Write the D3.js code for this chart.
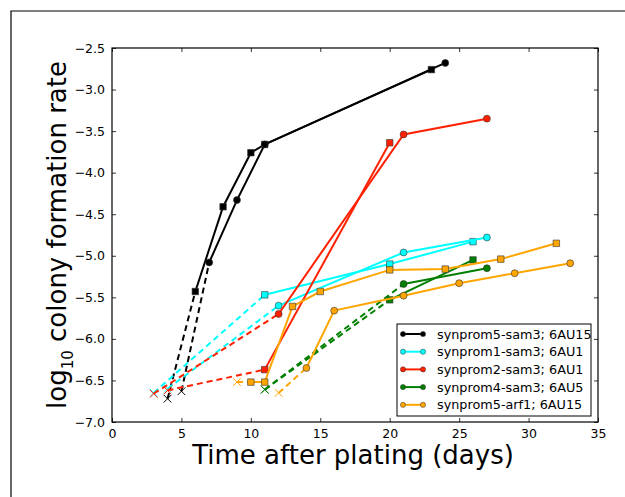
<!DOCTYPE html>
<html>
<head>
<meta charset="utf-8">
<script src="https://cdn.jsdelivr.net/npm/d3@7"></script>
<style>
    body { margin: 0; background: #fff; }
    text { font-family: "DejaVu Sans", sans-serif; }
</style>
</head>
<body>
<script>
(function(){

    //legend labels, one per strain
    var seriesLabels = [
        "synprom5-sam3; 6AU15",
        "synprom1-sam3; 6AU1",
        "synprom2-sam3; 6AU1",
        "synprom4-sam3; 6AU5",
        "synprom5-arf1; 6AU15"
    ];

    //replicate runs: days and log10 rates (first point is the "x" start, joined by a dashed line)
    var blackSqDays = [4, 6, 8, 10, 11, 23];
    var blackSqRates = [-6.72, -5.43, -4.41, -3.76, -3.66, -2.76];
    var blackCircDays = [5, 7, 9, 11, 24];
    var blackCircRates = [-6.63, -5.08, -4.33, -3.66, -2.68];

    var cyanSqDays = [3, 11, 20, 26];
    var cyanSqRates = [-6.65, -5.47, -5.10, -4.83];
    var cyanCircDays = [4, 12, 21, 27];
    var cyanCircRates = [-6.60, -5.60, -4.96, -4.78];

    var redSqDays = [4, 11, 20];
    var redSqRates = [-6.62, -6.37, -3.64];
    var redCircDays = [3, 12, 21, 27];
    var redCircRates = [-6.66, -5.70, -3.54, -3.35];

    var greenSqDays = [11, 20, 26];
    var greenSqRates = [-6.61, -5.53, -5.05];
    var greenCircDays = [11, 21, 27];
    var greenCircRates = [-6.61, -5.34, -5.15];

    var orangeSqDays = [9, 10, 11, 13, 15, 20, 24, 28, 32];
    var orangeSqRates = [-6.52, -6.52, -6.52, -5.61, -5.43, -5.17, -5.16, -5.04, -4.85];
    var orangeCircDays = [12, 14, 16, 21, 25, 29, 33];
    var orangeCircRates = [-6.65, -6.35, -5.66, -5.48, -5.33, -5.21, -5.09];

    //tick values
    var xTicks = [0, 5, 10, 15, 20, 25, 30, 35];
    var yTicks = [-7.0, -6.5, -6.0, -5.5, -5.0, -4.5, -4.0, -3.5, -3.0, -2.5];

    var colors = ["#000000", "#00ffff", "#ff2000", "#007f00", "#ffa500"];

    //build the run list from the arrays above
    var runs = [
        {s: 0, marker: "square", days: blackSqDays, rates: blackSqRates},
        {s: 0, marker: "circle", days: blackCircDays, rates: blackCircRates},
        {s: 1, marker: "square", days: cyanSqDays, rates: cyanSqRates},
        {s: 1, marker: "circle", days: cyanCircDays, rates: cyanCircRates},
        {s: 2, marker: "square", days: redSqDays, rates: redSqRates},
        {s: 2, marker: "circle", days: redCircDays, rates: redCircRates},
        {s: 3, marker: "square", days: greenSqDays, rates: greenSqRates},
        {s: 3, marker: "circle", days: greenCircDays, rates: greenCircRates},
        {s: 4, marker: "square", days: orangeSqDays, rates: orangeSqRates},
        {s: 4, marker: "circle", days: orangeCircDays, rates: orangeCircRates}
    ];
    runs.forEach(function(r){
        r.points = r.days.map(function(d, i){ return {day: d, rate: r.rates[i]}; });
    });

    window.onload = drawChart();

    function drawChart(){
        var width = 625,
            height = 497,
            left = 112,
            right = 598,
            top = 48,
            bottom = 422;

        var svg = d3.select("body")
            .append("svg")
            .attr("width", width)
            .attr("height", height);

        //figure border (only top and left show in the crop)
        svg.append("path")
            .attr("d", "M11," + height + "V11H" + width)
            .attr("fill", "none")
            .attr("stroke", "#000")
            .attr("stroke-width", 1.2);

        var x = d3.scaleLinear().domain([0, 35]).range([left, right]);
        var y = d3.scaleLinear().domain([-7, -2.5]).range([bottom, top]);

        var fmt = function(v){ return d3.format(".1f")(v).replace("-", "\u2212"); };

        //axes with inward ticks on all sides
        svg.append("g")
            .attr("class", "axis")
            .attr("transform", "translate(0," + bottom + ")")
            .call(d3.axisBottom(x).tickValues(xTicks).tickSizeInner(-4).tickSizeOuter(0).tickPadding(7));
        svg.append("g")
            .attr("class", "axis")
            .attr("transform", "translate(0," + top + ")")
            .call(d3.axisTop(x).tickValues(xTicks).tickSizeInner(-4).tickSizeOuter(0).tickFormat(""));
        svg.append("g")
            .attr("class", "axis")
            .attr("transform", "translate(" + left + ",0)")
            .call(d3.axisLeft(y).tickValues(yTicks).tickSizeInner(-4).tickSizeOuter(0).tickPadding(7).tickFormat(fmt));
        svg.append("g")
            .attr("class", "axis")
            .attr("transform", "translate(" + right + ",0)")
            .call(d3.axisRight(y).tickValues(yTicks).tickSizeInner(-4).tickSizeOuter(0).tickFormat(""));

        svg.selectAll(".axis .domain").remove();
        svg.selectAll(".axis text")
            .attr("font-size", 12.5)
            .attr("fill", "#000")
            .style("font-family", "DejaVu Sans");
        svg.selectAll(".axis line").attr("stroke", "#000").attr("stroke-width", 0.8);

        //plot frame
        svg.append("rect")
            .attr("x", left)
            .attr("y", top)
            .attr("width", right - left)
            .attr("height", bottom - top)
            .attr("fill", "none")
            .attr("stroke", "#000")
            .attr("stroke-width", 1.2);

        var line = d3.line()
            .x(function(d){ return x(d.day); })
            .y(function(d){ return y(d.rate); });

        var plot = svg.append("g");

        runs.forEach(function(r){
            var col = colors[r.s];
            //dashed lead-in from the start point
            plot.append("path")
                .datum(r.points.slice(0, 2))
                .attr("d", line)
                .attr("fill", "none")
                .attr("stroke", col)
                .attr("stroke-width", 2)
                .attr("stroke-dasharray", "6,4");
            //solid part
            plot.append("path")
                .datum(r.points.slice(1))
                .attr("d", line)
                .attr("fill", "none")
                .attr("stroke", col)
                .attr("stroke-width", 2);
            //x at the start
            var p0 = r.points[0];
            plot.append("path")
                .attr("d", d3.symbol().type(d3.symbolX).size(40))
                .attr("transform", "translate(" + x(p0.day) + "," + y(p0.rate) + ")")
                .attr("fill", "none")
                .attr("stroke", col)
                .attr("stroke-width", 1);
            //markers on the rest
            plot.selectAll(null)
                .data(r.points.slice(1))
                .enter()
                .append("path")
                .attr("d", d3.symbol().type(r.marker == "square" ? d3.symbolSquare : d3.symbolCircle).size(r.marker == "square" ? 42 : 38))
                .attr("transform", function(d){ return "translate(" + x(d.day) + "," + y(d.rate) + ")"; })
                .attr("fill", col)
                .attr("stroke", "#333")
                .attr("stroke-width", 0.6);
        });

        //axis titles
        svg.append("text")
            .attr("x", (left + right) / 2 - 2)
            .attr("y", 464)
            .attr("text-anchor", "middle")
            .attr("font-size", 26)
            .text("Time after plating (days)");

        var yTitle = svg.append("text")
            .attr("transform", "translate(66," + ((top + bottom) / 2) + ") rotate(-90)")
            .attr("text-anchor", "middle")
            .attr("font-size", 26);
        yTitle.append("tspan").text("log");
        yTitle.append("tspan").attr("font-size", 15).attr("dy", 7).text("10");
        yTitle.append("tspan").attr("dy", -7).text(" colony formation rate");

        //legend
        var lg = svg.append("g").attr("transform", "translate(397,324)");
        lg.append("rect")
            .attr("width", 194)
            .attr("height", 92)
            .attr("fill", "#fff")
            .attr("stroke", "#000")
            .attr("stroke-width", 1);
        seriesLabels.forEach(function(lab, i){
            var yy = 10 + i * 17.7;
            lg.append("line")
                .attr("x1", 6).attr("x2", 26)
                .attr("y1", yy).attr("y2", yy)
                .attr("stroke", colors[i])
                .attr("stroke-width", 2);
            [6, 26].forEach(function(xx){
                lg.append("circle")
                    .attr("cx", xx).attr("cy", yy).attr("r", 2.6)
                    .attr("fill", colors[i])
                    .attr("stroke", "#333")
                    .attr("stroke-width", 0.5);
            });
            lg.append("text")
                .attr("x", 40)
                .attr("y", yy + 4.5)
                .attr("font-size", 12.8)
                .text(lab);
        });
    };

})();
</script>
</body>
</html>
